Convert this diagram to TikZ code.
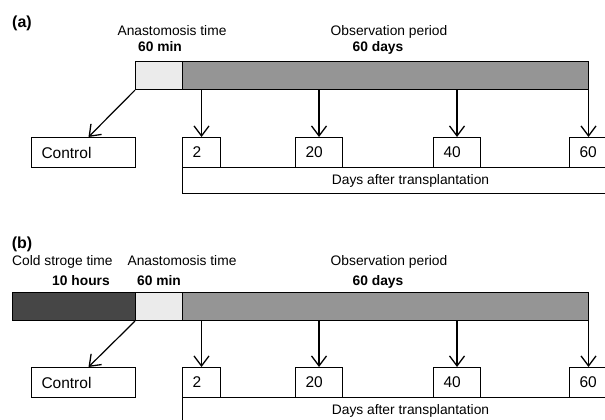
\documentclass[tikz,border=0pt]{standalone}
\usepackage{fontspec}
\setmainfont{Liberation Sans}
\usepackage{xcolor}
\usepackage{tikz}
\usetikzlibrary{positioning,calc,arrows.meta}

\definecolor{coldgray}{HTML}{464646}
\definecolor{anagray}{HTML}{EBEBEB}
\definecolor{obsgray}{HTML}{959595}

\tikzset{
  every node/.style={font=\fontsize{13.8}{16}\selectfont},
  bar/.style={draw, line width=1.1pt, minimum height=28pt, inner sep=0pt, anchor=north west},
  daybox/.style={draw, line width=1pt, minimum height=30pt, inner ysep=0pt, inner xsep=10pt, align=left, anchor=north west, fill=white, font=\fontsize{15.5}{18}\selectfont},
  daysframe/.style={draw, line width=1pt, minimum height=26pt, minimum width=456pt, inner sep=0pt, anchor=north west},
  lbl/.style={anchor=base, inner sep=0pt},
  tag/.style={anchor=base, inner sep=0pt, font=\fontsize{16}{18}\selectfont\bfseries},
  >={Straight Barb[length=10pt,width=15pt,line width=1.3pt]}
}

\begin{document}
\begin{tikzpicture}[x=1pt,y=-1pt]
        \useasboundingbox (0,0) rectangle (605,420);

        % (a) without cold storage
        \node[tag] (tagA) at (22,28) {(a)};
        \node[lbl] (anaTxtA) at (172,36) {Anastomosis time};
        \node[lbl, font=\fontsize{13.8}{16}\selectfont\bfseries] (anaValA) at (160,52) {60 min};
        \node[lbl] (obsTxtA) at (389,36) {Observation period};
        \node[lbl, font=\fontsize{13.8}{16}\selectfont\bfseries] (obsValA) at (378,52) {60 days};
        \node[bar, fill=anagray, minimum width=47pt] (anaA) at (135,61) {};
        \node[bar, fill=obsgray, minimum width=406pt] (obsA) at (182,61) {};

        % (b) with cold storage
        \node[tag] (tagB) at (22,248) {(b)};
        \node[lbl, anchor=base west] (coldTxtB) at (12,265) {Cold stroge time};
        \node[lbl, font=\fontsize{13.8}{16}\selectfont\bfseries] (coldValB) at (81,285) {10 hours};
        \node[lbl] (anaTxtB) at (182,265) {Anastomosis time};
        \node[lbl, font=\fontsize{13.8}{16}\selectfont\bfseries] (anaValB) at (159,285) {60 min};
        \node[lbl] (obsTxtB) at (389,265) {Observation period};
        \node[lbl, font=\fontsize{13.8}{16}\selectfont\bfseries] (obsValB) at (378,285) {60 days};
        \node[bar, fill=coldgray, minimum width=123pt] (coldB) at (12,292) {};
        \node[bar, fill=anagray, minimum width=47pt] (anaB) at (135,292) {};
        \node[bar, fill=obsgray, minimum width=406pt] (obsB) at (182,292) {};

        % boxes and arrows of both panels
        \foreach \p/\y in {A/137, B/367} {
            \node[daysframe] (days\p) at (182,\y+30) {Days after transplantation};
            \node[daybox, text width=84pt] (ctrl\p) at (31,\y) {Control};
            \draw[->, line width=1.2pt] (ana\p.south west) -- ([xshift=5pt]ctrl\p.north);
            \foreach \d/\x/\w in {2/182/38, 20/295/47, 40/433/47, 60/569/38} {
                \pgfmathsetmacro\tw{\w-20}
                \node[daybox, text width=\tw pt] (day\p\d) at (\x,\y) {\d};
                \draw[->, line width=1.2pt] (obs\p.south -| day\p\d.north) -- (day\p\d.north);
            }
        }
    \end{tikzpicture}
\end{document}
